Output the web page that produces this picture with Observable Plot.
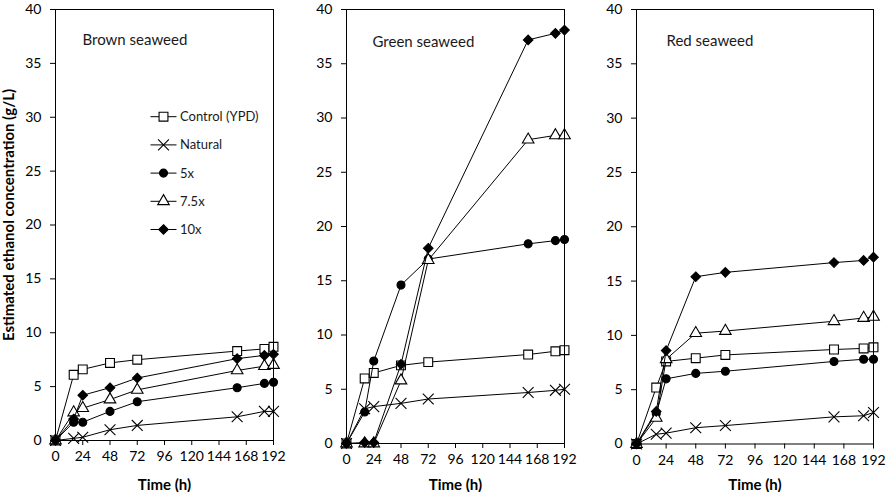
<!DOCTYPE html>
<html><head><meta charset="utf-8">
<script src="https://cdn.jsdelivr.net/npm/d3@7"></script>
<script src="https://cdn.jsdelivr.net/npm/@observablehq/plot@0.6"></script>
<style>
html,body{margin:0;padding:0;background:#fff;}
#wrap{position:relative;width:886px;height:492px;overflow:hidden;font-family:Lato,sans-serif;}
#wrap > svg{position:absolute;top:0;}
g[aria-label="x-axis label"] text{font-weight:bold;font-size:15px;}
</style></head><body><div id="wrap"></div>
<script>
// ---- data ----
const times = [0, 16, 24, 48, 72, 160, 184, 192];
const seriesNames = ["Control (YPD)", "Natural", "5x", "7.5x", "10x"];
const panelTitles = ["Brown seaweed", "Green seaweed", "Red seaweed"];
const xTicks = [0, 24, 48, 72, 96, 120, 144, 168, 192];
const yTicks = [0, 5, 10, 15, 20, 25, 30, 35, 40];
const yLabel = "Estimated ethanol concentration (g/L)";
const xLabel = "Time (h)";

const brownControl = [0, 6.1, 6.6, 7.2, 7.5, 8.3, 8.5, 8.7];
const brownNatural = [0, 0.2, 0.3, 1.0, 1.4, 2.2, 2.7, 2.7];
const brown5x      = [0, 1.7, 1.7, 2.7, 3.6, 4.9, 5.3, 5.4];
const brown75x     = [0, 2.6, 3.0, 3.8, 4.7, 6.5, 6.9, 7.0];
const brown10x     = [0, 2.0, 4.2, 4.9, 5.8, 7.6, 7.9, 8.0];

const greenControl = [0, 6.0, 6.5, 7.2, 7.5, 8.2, 8.5, 8.6];
const greenNatural = [0, 3.2, 3.4, 3.7, 4.1, 4.7, 4.9, 5.0];
const green5x      = [0, 2.9, 7.6, 14.6, 17.0, 18.4, 18.7, 18.8];
const green75x     = [0, 0, 0, 5.8, 16.9, 28.0, 28.4, 28.4];
const green10x     = [0, 0.1, 0.1, 7.3, 18.0, 37.2, 37.8, 38.1];

const redControl = [0, 5.2, 7.6, 7.9, 8.2, 8.7, 8.8, 8.9];
const redNatural = [0, 0.9, 1.0, 1.5, 1.7, 2.5, 2.6, 2.9];
const red5x      = [0, 2.8, 6.0, 6.5, 6.7, 7.6, 7.8, 7.8];
const red75x     = [0, 2.4, 7.8, 10.2, 10.4, 11.3, 11.6, 11.7];
const red10x     = [0, 3.0, 8.6, 15.4, 15.8, 16.7, 16.9, 17.2];

const panelSeries = [
  [brownControl, brownNatural, brown5x, brown75x, brown10x],
  [greenControl, greenNatural, green5x, green75x, green10x],
  [redControl, redNatural, red5x, red75x, red10x]
];

// ---- styles ----
const markerStyles = [
  {symbol: "square", fill: "white", r: 5},
  {symbol: "times", fill: "none", r: 5},
  {symbol: "circle", fill: "black", r: 4},
  {symbol: "triangle", fill: "white", r: 4.3},
  {symbol: "diamond2", fill: "black", r: 4.3}
];
const layout = [
  {left: 0,   width: 290, ml: 55, mr: 17, mt: 9, mb: 52, tdx: 27, tdy: 31},
  {left: 290, width: 295, ml: 56, mr: 21, mt: 9, mb: 49, tdx: 26, tdy: 33},
  {left: 580, width: 306, ml: 56, mr: 13, mt: 9, mb: 48.5, tdx: 30, tdy: 32}
];

const wrap = document.getElementById("wrap");

panelSeries.forEach((series, p) => {
  const L = layout[p];
  const marks = [];
  series.forEach((vals, s) => {
    const rows = times.map((t, i) => ({t, v: vals[i]}));
    const st = markerStyles[s];
    marks.push(Plot.line(rows, {x: "t", y: "v", stroke: "black", strokeWidth: 1}));
    marks.push(Plot.dot(rows, {x: "t", y: "v", symbol: st.symbol, r: st.r, fill: st.fill, stroke: "black", strokeWidth: 1.1}));
  });
  marks.push(Plot.frame({stroke: "black", strokeWidth: 1}));
  marks.push(Plot.text([panelTitles[p]], {
    text: d => d, frameAnchor: "top-left", dx: L.tdx, dy: L.tdy,
    textAnchor: "start", lineAnchor: "middle", fontSize: 15, fill: "#1a1a1a"
  }));
  if (p === 0) {
    marks.push(Plot.text([yLabel], {
      text: d => d, frameAnchor: "left", rotate: -90, dx: -46, dy: -10,
      textAnchor: "middle", lineAnchor: "middle", fontSize: 15, fontWeight: "bold", fill: "black"
    }));
  }
  const chart = Plot.plot({
    width: L.width, height: 492,
    marginLeft: L.ml, marginRight: L.mr, marginTop: L.mt, marginBottom: L.mb,
    style: {fontSize: "14px", fontFamily: "Lato, sans-serif", color: "black", background: "transparent", overflow: "visible"},
    x: {domain: [0, 192], ticks: xTicks, tickSize: 5, tickPadding: 6, label: xLabel, labelAnchor: "center", labelArrow: "none"},
    y: {domain: [0, 40], ticks: yTicks, tickSize: 5, tickPadding: 9, label: null},
    marks
  });
  chart.style.left = L.left + "px";
  wrap.appendChild(chart);
});

// ---- legend (inside brown panel) ----
const leg = d3.select(wrap).append("svg")
  .attr("width", 886).attr("height", 492)
  .style("position", "absolute").style("left", "0px").style("top", "0px");
const symMap = {square: d3.symbolSquare, times: d3.symbolTimes, circle: d3.symbolCircle, triangle: d3.symbolTriangle, diamond2: d3.symbolDiamond2};
seriesNames.forEach((name, i) => {
  const st = markerStyles[i];
  const y = 116.7 + i * 28.2;
  const g = leg.append("g");
  g.append("line").attr("x1", 150.5).attr("x2", 176.5).attr("y1", y).attr("y2", y).attr("stroke", "black").attr("stroke-width", 1);
  g.append("path").attr("transform", `translate(163.5,${y})`)
    .attr("d", d3.symbol(symMap[st.symbol], Math.PI * st.r * st.r)())
    .attr("fill", st.fill).attr("stroke", "black").attr("stroke-width", 1.1);
  g.append("text").attr("x", 180).attr("y", y).attr("dy", "0.35em")
    .attr("font-family", "Lato, sans-serif").attr("font-size", 13).attr("fill", "#1a1a1a").text(name);
});
</script></body></html>
